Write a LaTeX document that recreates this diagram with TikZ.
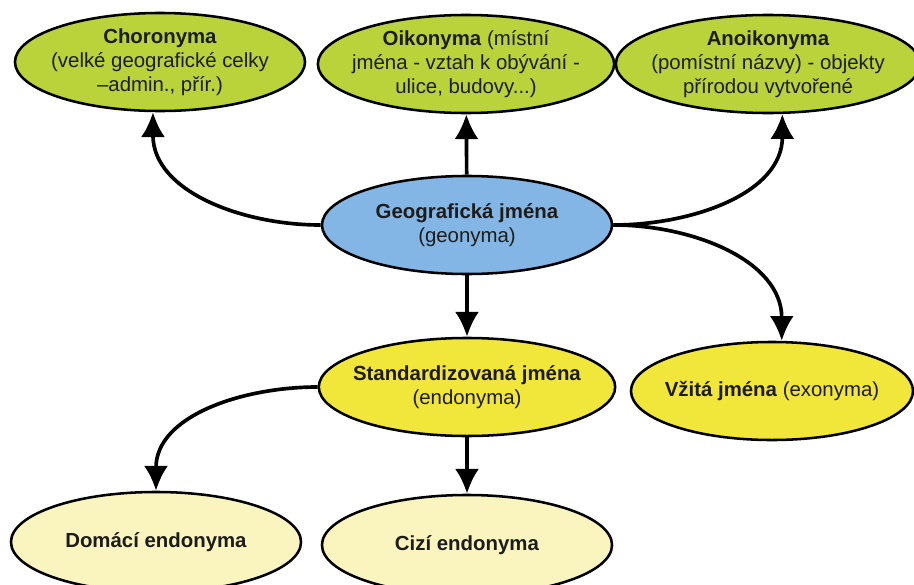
\documentclass[tikz,border=0pt]{standalone}
\usepackage{fontspec}
\setmainfont{Liberation Sans}
\usetikzlibrary{shapes.geometric,arrows.meta}

\definecolor{limefill}{RGB}{186,211,58}
\definecolor{skyfill}{RGB}{131,181,229}
\definecolor{sunfill}{RGB}{241,230,58}
\definecolor{creamfill}{RGB}{250,244,190}
\definecolor{inkcol}{RGB}{28,28,28}

\begin{document}
\begin{tikzpicture}[x=0.025cm,y=-0.025cm]
    \tikzstyle{placebox}=[ellipse,draw=black,line width=1.8pt,inner xsep=-6.5pt,inner ysep=0pt,align=center,
        text=inkcol,minimum width=7.25cm,minimum height=2.45cm,font=\fontsize{14.5}{16.9}\selectfont]
    \tikzstyle{topname}=[placebox,fill=limefill]
    \tikzstyle{rootname}=[placebox,fill=skyfill]
    \tikzstyle{midname}=[placebox,fill=sunfill]
    \tikzstyle{leafname}=[placebox,fill=creamfill,minimum height=2.5cm]
    \tikzstyle{link}=[line width=2.6pt,-{Latex[length=6.2mm,width=6mm]}]

    \useasboundingbox (0,0) rectangle (914,585);

    % top row
    \node[topname] (chor) at (160,62) {\textbf{Choronyma}\\(velké geografické celky\\–admin., přír.)};
    \node[topname] (oiko) at (466,64) {\textbf{Oikonyma} (místní\\jména - vztah k obývání -\\ulice, budovy...)};
    \node[topname] (anoi) at (768,64) {\textbf{Anoikonyma}\\(pomístní názvy) - objekty\\přírodou vytvořené};

    % middle
    \node[rootname] (geo) at (467,225) {\textbf{Geografická jména}\\(geonyma)};
    \node[midname] (std) at (467,387) {\textbf{Standardizovaná jména}\\(endonyma)};
    \node[midname,minimum width=7.05cm] (vzit) at (772,391) {\textbf{Vžitá jména} (exonyma)};

    % bottom row
    \node[leafname] (dom) at (156,542) {\textbf{Domácí endonyma}};
    \node[leafname] (cizi) at (467,545) {\textbf{Cizí endonyma}};

    \foreach \from/\to in {geo/oiko, geo/std, std/cizi}
        \draw[link] (\from) -- (\to);

    \draw[link] (geo.west) to[out=180,in=-90] (chor.-98);
    \draw[link] (geo.east) to[out=0,in=-90] (anoi.-74);
    \draw[link] (geo.east) to[out=0,in=90] (vzit.79);
    \draw[link] (std.west) to[out=180,in=90] (dom.north);
\end{tikzpicture}
\end{document}
